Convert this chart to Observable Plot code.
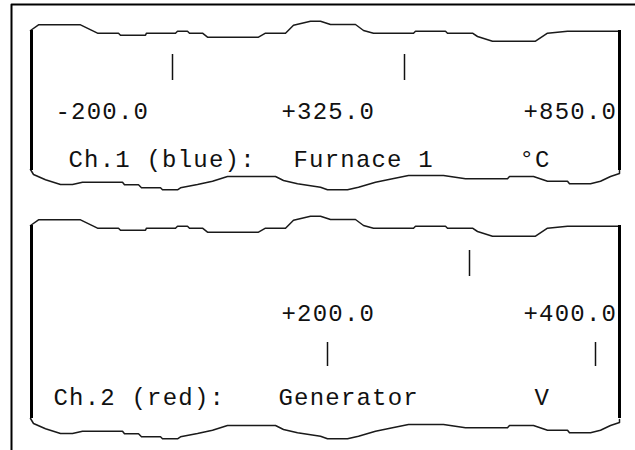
<!DOCTYPE html>
<html>
<head>
<meta charset="utf-8">
<script src="https://cdn.jsdelivr.net/npm/d3@7"></script>
<script src="https://cdn.jsdelivr.net/npm/@observablehq/plot@0.6"></script>
<style>
  html, body { margin: 0; padding: 0; background: #fff; }
  #chart svg text { letter-spacing: 1.2px; }
</style>
</head>
<body>
<div id="chart"></div>
<script>
// ---- content (text of the printed channel scales) ----
const channelNames = ["Ch.1 (blue):", "Ch.2 (red):"];
const tagNames = ["Furnace 1", "Generator"];
const unitNames = ["°C", "V"];
const ch1ScaleLabels = ["-200.0", "+325.0", "+850.0"];
const ch2ScaleLabels = ["+200.0", "+400.0"];

// ---- layout on the paper (pixels of the strip) ----
const W = 635, H = 450;
const panelTopShift = [0, 195];
const panelBottomShift = [0, 249];
const panelSide = { left: 31, right: 619 };
const panelSpan = [[30, 170], [225, 418]];
const scaleLabelX = [[55, 281, 523], [281, 523]];
const scaleLabelY = [118, 320];
const nameX = [[68, 293, 519], [53, 278, 534]];
const nameY = [166.5, 404.5];
const tickMarks = [
  { x: 172, y1: 54, y2: 80 }, { x: 404, y1: 54, y2: 80 },
  { x: 469, y1: 250, y2: 276 },
  { x: 327, y1: 342, y2: 366 }, { x: 595, y1: 342, y2: 366 }
];

// torn-paper edge outlines (panel 1, shifted for panel 2)
const tornTop = [[30,30],[38,24.3],[80,24.3],[97,32.7],[118,32.7],[120,34.7],[145,34.7],[146,32.7],[175,32.7],[177,30.7],[187,30.7],[189,32.7],[202,32.7],[207,36.7],[258,36.7],[265,32.7],[285,32.7],[293,24.7],[310,20.7],[320,20.7],[330,24],[355,24],[363,30],[373,32.7],[413,32.7],[415,30.7],[445,30.7],[447,32.7],[472,32.7],[477,36],[492,40.7],[535,40.7],[547,32.7],[567,30.7],[619,30.7]];
const tornBottom = [[30,169],[33,174],[45,179.3],[60,184],[72,184],[82,181.7],[122,181.7],[124,184.3],[138,184.3],[141,187.3],[160,187.3],[162,189.3],[177,189.3],[180,187.3],[197,184],[212,180.7],[227,176],[275,176],[283,180],[297,183.3],[320,186.7],[327,189.3],[347,189.3],[358,186.7],[375,181.7],[392,178.3],[408,175],[443,175],[465,178.3],[507,178.3],[509,176],[533,176],[547,180.7],[567,180.7],[569,183.3],[590,183.3],[600,180.7],[610,176],[619,173],[619,170]];
const outerFrame = [[11, H], [11, 4], [W, 4]];

// ---- build tables ----
const edges = [];
[0, 1].forEach(p => {
  tornTop.forEach(([x, y]) => edges.push({ id: "t" + p, x, y: y + panelTopShift[p] }));
  tornBottom.forEach(([x, y]) => edges.push({ id: "b" + p, x, y: y + panelBottomShift[p] }));
});
const sides = [];
[0, 1].forEach(p => {
  sides.push({ x: panelSide.left, y1: panelSpan[p][0], y2: panelSpan[p][1] });
  sides.push({ x: panelSide.right, y1: panelSpan[p][0], y2: panelSpan[p][1] });
});
const texts = [];
ch1ScaleLabels.forEach((t, i) => texts.push({ t, x: scaleLabelX[0][i], y: scaleLabelY[0] }));
ch2ScaleLabels.forEach((t, i) => texts.push({ t, x: scaleLabelX[1][i], y: scaleLabelY[1] }));
[0, 1].forEach(p => {
  [channelNames[p], tagNames[p], unitNames[p]].forEach((t, i) =>
    texts.push({ t, x: nameX[p][i], y: nameY[p] }));
});

const chart = Plot.plot({
  width: W,
  height: H,
  margin: 0,
  x: { domain: [0, W], range: [0, W], axis: null },
  y: { domain: [0, H], range: [0, H], axis: null },
  marks: [
    Plot.line(outerFrame, { x: d => d[0], y: d => d[1], stroke: "#000", strokeWidth: 2 }),
    Plot.line(edges, { x: "x", y: "y", z: "id", stroke: "#1a1a1a", strokeWidth: 1.5 }),
    Plot.ruleX(sides, { x: "x", y1: "y1", y2: "y2", stroke: "#000", strokeWidth: 3 }),
    Plot.ruleX(tickMarks, { x: "x", y1: "y1", y2: "y2", stroke: "#111", strokeWidth: 1.5 }),
    Plot.text(texts, {
      x: "x", y: "y", text: "t",
      textAnchor: "start", lineAnchor: "bottom",
      fontFamily: "Liberation Mono", fontSize: 24, fill: "#111"
    })
  ]
});
document.getElementById("chart").appendChild(chart);
</script>
</body>
</html>
